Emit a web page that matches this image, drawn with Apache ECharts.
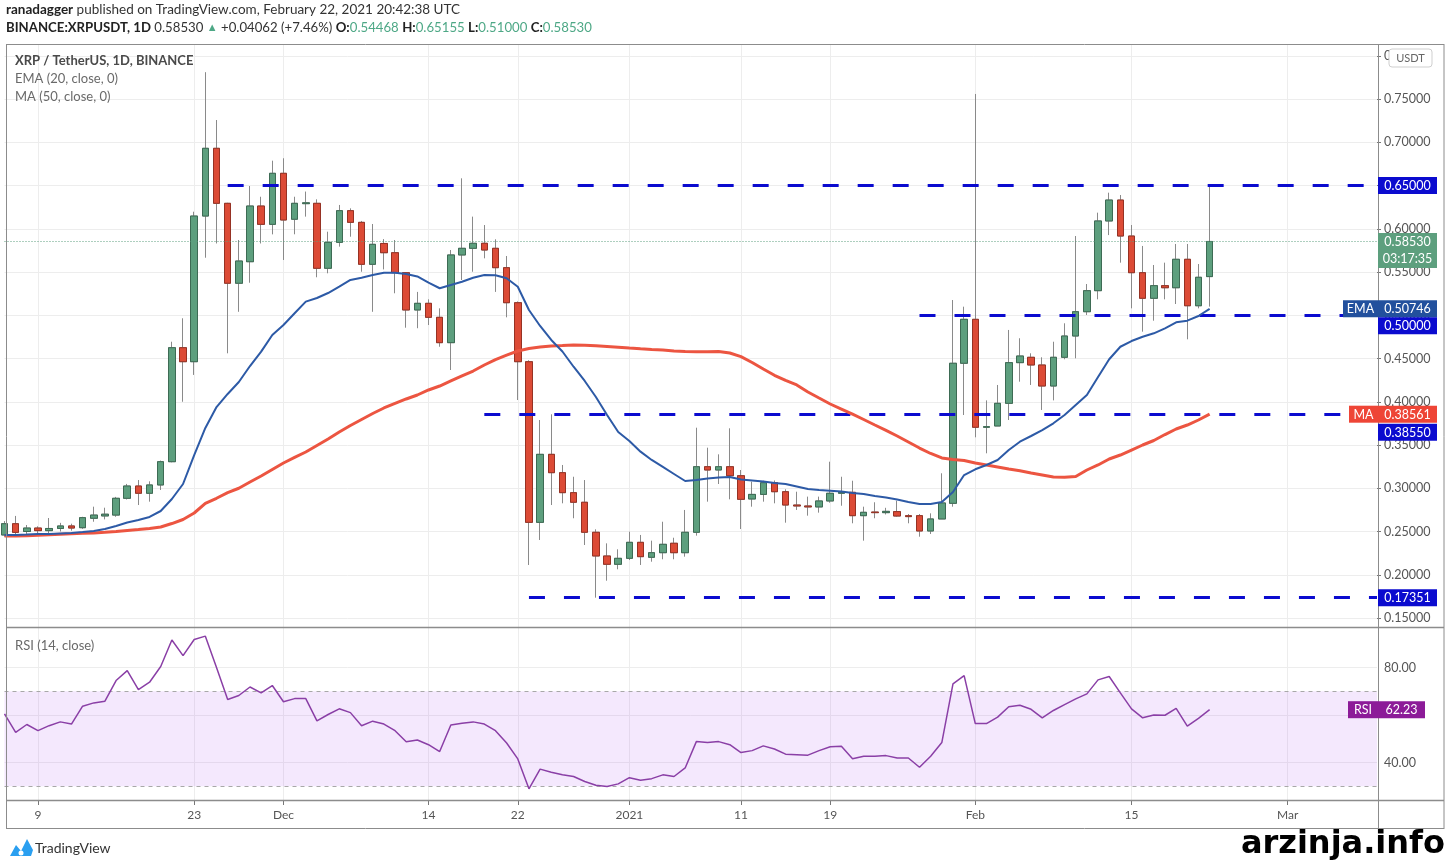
<!DOCTYPE html>
<html><head><meta charset="utf-8">
<script src="https://cdn.jsdelivr.net/npm/echarts@6/dist/echarts.min.js"></script>
<style>html,body{margin:0;padding:0;background:#fff;}#c{width:1449px;height:861px;}</style>
</head><body><div id="c"></div>
<script>
const dates = [
'2020-11-06','2020-11-07','2020-11-08','2020-11-09','2020-11-10','2020-11-11','2020-11-12','2020-11-13','2020-11-14','2020-11-15',
'2020-11-16','2020-11-17','2020-11-18','2020-11-19','2020-11-20','2020-11-21','2020-11-22','2020-11-23','2020-11-24','2020-11-25',
'2020-11-26','2020-11-27','2020-11-28','2020-11-29','2020-11-30','2020-12-01','2020-12-02','2020-12-03','2020-12-04','2020-12-05',
'2020-12-06','2020-12-07','2020-12-08','2020-12-09','2020-12-10','2020-12-11','2020-12-12','2020-12-13','2020-12-14','2020-12-15',
'2020-12-16','2020-12-17','2020-12-18','2020-12-19','2020-12-20','2020-12-21','2020-12-22','2020-12-23','2020-12-24','2020-12-25',
'2020-12-26','2020-12-27','2020-12-28','2020-12-29','2020-12-30','2020-12-31','2021-01-01','2021-01-02','2021-01-03','2021-01-04',
'2021-01-05','2021-01-06','2021-01-07','2021-01-08','2021-01-09','2021-01-10','2021-01-11','2021-01-12','2021-01-13','2021-01-14',
'2021-01-15','2021-01-16','2021-01-17','2021-01-18','2021-01-19','2021-01-20','2021-01-21','2021-01-22','2021-01-23','2021-01-24',
'2021-01-25','2021-01-26','2021-01-27','2021-01-28','2021-01-29','2021-01-30','2021-01-31','2021-02-01','2021-02-02','2021-02-03',
'2021-02-04','2021-02-05','2021-02-06','2021-02-07','2021-02-08','2021-02-09','2021-02-10','2021-02-11','2021-02-12','2021-02-13',
'2021-02-14','2021-02-15','2021-02-16','2021-02-17','2021-02-18','2021-02-19','2021-02-20','2021-02-21','2021-02-22','2021-02-23',
'2021-02-24','2021-02-25','2021-02-26','2021-02-27','2021-02-28','2021-03-01','2021-03-02','2021-03-03','2021-03-04','2021-03-05',
'2021-03-06','2021-03-07','2021-03-08','2021-03-09'];

const openP = [
0.2460,0.2590,0.2500,0.2540,0.2510,0.2535,0.2564,0.2544,0.2653,0.2680,
0.2690,0.2884,0.3026,0.2942,0.3038,0.3307,0.4625,0.4463,0.6147,0.6930,
0.6294,0.5370,0.5619,0.6263,0.6051,0.6641,0.6110,0.6290,0.6294,0.5543,
0.5843,0.6209,0.6074,0.5589,0.5830,0.5723,0.5492,0.5061,0.5138,0.4976,
0.4683,0.5697,0.5774,0.5832,0.5774,0.5550,0.5145,0.4463,0.2606,0.3392,
0.3180,0.2949,0.2838,0.2491,0.2217,0.2121,0.2190,0.2375,0.2202,0.2255,
0.2364,0.2255,0.2491,0.3249,0.3211,0.3249,0.3145,0.2876,0.2929,0.3064,
0.2960,0.2806,0.2795,0.2784,0.2853,0.2942,0.2953,0.2683,0.2725,0.2718,
0.2730,0.2683,0.2683,0.2506,0.2645,0.2826,0.4445,0.4953,0.3705,0.3720,
0.3982,0.4452,0.4514,0.4425,0.4182,0.4514,0.4760,0.5041,0.5284,0.6090,
0.6332,0.5916,0.5492,0.5196,0.5342,0.5318,0.5647,0.5110,0.54468];
const closeP = [
0.2590,0.2490,0.2540,0.2510,0.2535,0.2564,0.2540,0.2660,0.2690,0.2700,
0.2884,0.3026,0.2942,0.3038,0.3307,0.4625,0.4463,0.6147,0.6930,0.6294,
0.5370,0.5627,0.6263,0.6051,0.6641,0.6101,0.6294,0.6300,0.5543,0.5843,
0.6209,0.6074,0.5589,0.5820,0.5723,0.5492,0.5061,0.5138,0.4976,0.4683,
0.5697,0.5774,0.5832,0.5754,0.5550,0.5145,0.4463,0.2606,0.3392,0.3180,
0.2949,0.2838,0.2491,0.2217,0.2121,0.2190,0.2375,0.2209,0.2255,0.2352,
0.2255,0.2491,0.3249,0.3211,0.3249,0.3145,0.2872,0.2929,0.3064,0.2960,
0.2806,0.2795,0.2784,0.2853,0.2942,0.2953,0.2683,0.2722,0.2718,0.2733,
0.2679,0.2672,0.2506,0.2645,0.2830,0.4445,0.4953,0.3705,0.3712,0.3982,
0.4452,0.4529,0.4425,0.4182,0.4514,0.4760,0.5041,0.5284,0.6090,0.6332,
0.5916,0.5492,0.5196,0.5342,0.5318,0.5647,0.5110,0.5439,0.5853];
const lowP = [
0.2440,0.2460,0.2470,0.2480,0.2480,0.2500,0.2510,0.2530,0.2613,0.2640,
0.2670,0.2870,0.2806,0.2845,0.2980,0.3300,0.4000,0.4310,0.5665,0.5830,
0.4560,0.5040,0.5376,0.5830,0.5935,0.5639,0.5936,0.6140,0.5439,0.5485,
0.5793,0.5908,0.5503,0.5040,0.5530,0.5254,0.4856,0.4850,0.4887,0.4636,
0.4367,0.5407,0.5503,0.5658,0.5270,0.4976,0.4020,0.2113,0.2402,0.2806,
0.2826,0.2653,0.2344,0.1735,0.1931,0.2063,0.2170,0.2113,0.2151,0.2179,
0.2179,0.2209,0.2452,0.2845,0.3049,0.2872,0.2529,0.2787,0.2845,0.2826,
0.2602,0.2749,0.2683,0.2718,0.2833,0.2798,0.2595,0.2394,0.2653,0.2697,
0.2671,0.2595,0.2440,0.2471,0.2645,0.2787,0.3847,0.3589,0.3404,0.3720,
0.3789,0.4232,0.4194,0.3905,0.4016,0.4491,0.4502,0.5003,0.5184,0.5927,
0.5608,0.5080,0.4810,0.4937,0.5184,0.5130,0.4722,0.5080,0.5100];
const highP = [
0.2620,0.2680,0.2575,0.2560,0.2656,0.2600,0.2590,0.2670,0.2787,0.2775,
0.2900,0.3050,0.3095,0.3080,0.3320,0.4694,0.4965,0.6197,0.7810,0.7257,
0.6300,0.5870,0.6494,0.6370,0.6787,0.6815,0.6370,0.6430,0.6340,0.5966,
0.6275,0.6236,0.6090,0.6055,0.5880,0.5870,0.5500,0.5270,0.5184,0.5080,
0.5754,0.6583,0.6140,0.6043,0.5878,0.5685,0.5160,0.4480,0.3789,0.3855,
0.3269,0.3133,0.3095,0.2525,0.2363,0.2294,0.2498,0.2460,0.2394,0.2613,
0.2428,0.2749,0.3700,0.3469,0.3392,0.3693,0.3211,0.3076,0.3087,0.3090,
0.2988,0.2960,0.2903,0.2903,0.3307,0.3133,0.3087,0.2787,0.2838,0.2774,
0.2856,0.2702,0.2702,0.2710,0.3173,0.5176,0.5099,0.7558,0.4016,0.4194,
0.4830,0.4734,0.4560,0.4514,0.4694,0.4907,0.5916,0.5361,0.6186,0.6417,
0.6390,0.6043,0.5801,0.5581,0.5608,0.5824,0.5824,0.5592,0.65155];
const ema20 = [
0.2460,0.2460,0.2465,0.2471,0.2471,0.2477,0.2483,0.2494,0.2506,0.2529,
0.2564,0.2604,0.2633,0.2668,0.2737,0.2876,0.3049,0.3384,0.3697,0.3939,
0.4090,0.4228,0.4413,0.4579,0.4772,0.4887,0.5023,0.5157,0.5199,0.5257,
0.5330,0.5408,0.5434,0.5465,0.5492,0.5492,0.5477,0.5448,0.5376,0.5312,
0.5350,0.5388,0.5434,0.5465,0.5462,0.5427,0.5330,0.5061,0.4876,0.4714,
0.4581,0.4405,0.4240,0.4055,0.3847,0.3650,0.3546,0.3423,0.3327,0.3246,
0.3165,0.3084,0.3095,0.3113,0.3124,0.3130,0.3101,0.3090,0.3078,0.3061,
0.3049,0.3020,0.2991,0.2980,0.2972,0.2962,0.2945,0.2934,0.2910,0.2893,
0.2870,0.2841,0.2818,0.2818,0.2841,0.2957,0.3153,0.3219,0.3269,0.3327,
0.3442,0.3538,0.3604,0.3673,0.3751,0.3847,0.3962,0.4078,0.4286,0.4491,
0.4636,0.4702,0.4752,0.4791,0.4849,0.4918,0.4937,0.4991,0.50746];
const ma50 = [
0.2448,0.2448,0.2450,0.2456,0.2462,0.2469,0.2473,0.2479,0.2484,0.2490,
0.2500,0.2512,0.2523,0.2535,0.2552,0.2592,0.2639,0.2714,0.2824,0.2884,
0.2949,0.3000,0.3072,0.3142,0.3217,0.3292,0.3356,0.3419,0.3494,0.3569,
0.3650,0.3725,0.3795,0.3864,0.3928,0.3980,0.4032,0.4078,0.4136,0.4182,
0.4240,0.4298,0.4355,0.4425,0.4488,0.4540,0.4587,0.4616,0.4633,0.4645,
0.4650,0.4656,0.4654,0.4647,0.4639,0.4631,0.4621,0.4612,0.4604,0.4598,
0.4587,0.4581,0.4579,0.4579,0.4581,0.4563,0.4521,0.4454,0.4379,0.4306,
0.4246,0.4194,0.4113,0.4043,0.3974,0.3916,0.3858,0.3795,0.3731,0.3668,
0.3604,0.3535,0.3465,0.3402,0.3350,0.3332,0.3321,0.3292,0.3269,0.3246,
0.3223,0.3203,0.3176,0.3153,0.3130,0.3127,0.3136,0.3211,0.3269,0.3338,
0.3384,0.3442,0.3500,0.3552,0.3621,0.3685,0.3731,0.3789,0.38561];
const rsi14 = [
60.5,52.7,56.0,53.4,55.5,57.1,56.2,63.7,65.1,65.8,
74.5,78.7,70.7,73.8,80.4,91.6,85.0,91.8,93.2,80.0,
66.5,68.2,71.8,69.3,72.4,65.6,66.9,66.9,57.5,60.2,
62.6,61.0,55.5,57.4,56.2,53.4,48.7,49.5,47.5,44.6,
55.8,56.5,57.1,56.2,53.4,48.2,41.5,28.9,37.2,35.9,
34.8,34.1,32.0,30.4,29.9,31.0,33.6,32.5,33.2,34.8,
34.1,37.7,48.8,48.4,48.8,47.5,44.2,45.0,47.0,45.7,
43.5,43.3,43.1,45.0,46.6,46.8,41.6,42.6,42.6,42.9,
41.9,41.9,38.0,42.6,48.4,73.1,76.6,56.4,56.4,59.1,
63.5,64.1,62.4,58.8,61.9,64.4,66.8,68.9,74.8,76.2,
69.3,62.6,58.8,60.0,59.9,62.8,55.3,58.6,62.23];

const tickDates = ['2020-11-09','2020-11-23','2020-12-01','2020-12-14','2020-12-22','2021-01-01','2021-01-11','2021-01-19','2021-02-01','2021-02-15','2021-03-01'];
const tickTexts = ['9','23','Dec','14','22','2021','11','19','Feb','15','Mar'];
const levelValues = [0.65, 0.50, 0.3855, 0.17351];
const levelStarts = ['2020-11-26','2021-01-27','2020-12-19','2020-12-23'];
const lastPrice = 0.5853;
const countdown = '03:17:35';
const lastEma = 0.50746, lastMa = 0.38561, lastRsi = 62.23;

const UP = '#5d9f7e', DOWN = '#dc4b36', LEVEL = '#0b0bcf';
const lastDate = dates[dates.length - 1];
const candles = openP.map((o, i) => [o, closeP[i], lowP[i], highP[i]]);
const bodies = openP.map((o, i) => [o, closeP[i], Math.min(o, closeP[i]), Math.max(o, closeP[i])]);
const tickIdx = new Set(tickDates.map(d => dates.indexOf(d)));
const isTick = (i) => tickIdx.has(i);

const chart = echarts.init(document.getElementById('c'), null, {renderer: 'canvas'});
const GL = 4.5, GW = 1372.5;
const hiddenX = (gi) => ({type: 'category', gridIndex: gi, data: dates, boundaryGap: false,
  axisLine: {show: false}, axisTick: {show: false}, axisLabel: {show: false}, splitLine: {show: false}});

const option = {
  animation: false,
  backgroundColor: '#ffffff',
  textStyle: {fontFamily: 'Lato'},
  grid: [
    {left: GL, width: GW, top: 55.75, height: 562.25},
    {left: GL, width: GW, top: 620, height: 190},
    {left: GL, width: GW, top: 44, height: 756}
  ],
  xAxis: [
    hiddenX(0), hiddenX(1),
    {type: 'category', gridIndex: 2, data: dates, boundaryGap: false,
     axisLine: {show: false},
     axisTick: {show: true, interval: isTick, length: 5, lineStyle: {color: '#777'}},
     axisLabel: {show: true, interval: isTick, margin: 9, color: '#555', fontSize: 12, fontFamily: 'Lato',
       formatter: (v) => { const k = tickDates.indexOf(v); return k >= 0 ? tickTexts[k] : ''; }},
     splitLine: {show: true, interval: isTick, lineStyle: {color: '#ededed', width: 1}}}
  ],
  yAxis: [
    {type: 'value', gridIndex: 0, position: 'right', min: 0.15, max: 0.80, interval: 0.05,
     axisLine: {show: false}, axisTick: {show: true, length: 4, lineStyle: {color: '#777'}},
     axisLabel: {color: '#555', fontSize: 12.5, margin: 7, fontFamily: 'Lato', formatter: (v) => v.toFixed(5)},
     splitLine: {show: true, lineStyle: {color: '#ededed', width: 1}}},
    {type: 'value', gridIndex: 1, position: 'right', min: 20, max: 100, interval: 20,
     axisLine: {show: false}, axisTick: {show: false},
     axisLabel: {color: '#555', fontSize: 12.5, margin: 7, fontFamily: 'Lato',
       formatter: (v) => (Math.round(v) === 40 || Math.round(v) === 80) ? v.toFixed(2) : ''},
     splitLine: {show: true, showMinLine: false, showMaxLine: false, lineStyle: {color: '#ededed', width: 1}}},
    {type: 'value', gridIndex: 2, show: false, splitLine: {show: false}}
  ],
  series: [
    {name: 'wicks', type: 'candlestick', xAxisIndex: 0, yAxisIndex: 0, data: candles, barWidth: 7, z: 2,
     itemStyle: {color: '#8a8a8a', color0: '#8a8a8a', borderColor: '#8a8a8a', borderColor0: '#8a8a8a', borderWidth: 1}},
    {name: 'bodies', type: 'candlestick', xAxisIndex: 0, yAxisIndex: 0, data: bodies, barWidth: 7, z: 3,
     itemStyle: {color: UP, color0: DOWN, borderColor: '#3d6b54', borderColor0: '#963224', borderWidth: 1}},
    {name: 'MA 50', type: 'line', xAxisIndex: 0, yAxisIndex: 0, data: ma50, showSymbol: false, symbol: 'none', z: 5,
     lineStyle: {color: '#ec5541', width: 3}},
    {name: 'EMA 20', type: 'line', xAxisIndex: 0, yAxisIndex: 0, data: ema20, showSymbol: false, symbol: 'none', z: 6,
     lineStyle: {color: '#2d5aa6', width: 2}},
    {name: 'levels', type: 'line', xAxisIndex: 0, yAxisIndex: 0, data: [], z: 7,
     markLine: {silent: true, symbol: ['none', 'none'], label: {show: false},
       data: levelValues.map((v, i) => [
         {xAxis: levelStarts[i], yAxis: v, lineStyle: {color: LEVEL, width: 3, type: [16, 19]}},
         {xAxis: lastDate, yAxis: v}
       ]).concat([[
         {xAxis: dates[0], yAxis: lastPrice, lineStyle: {color: UP, width: 1, type: [1, 2]}},
         {xAxis: lastDate, yAxis: lastPrice}
       ]])}},
    {name: 'RSI', type: 'line', xAxisIndex: 1, yAxisIndex: 1, data: rsi14, showSymbol: false, symbol: 'none', z: 5,
     lineStyle: {color: '#8a3fa6', width: 1.5},
     markArea: {silent: true, itemStyle: {color: 'rgba(180,100,240,0.15)'}, data: [[{yAxis: 30}, {yAxis: 70}]]},
     markLine: {silent: true, symbol: ['none', 'none'], label: {show: false},
       lineStyle: {color: '#a8a8a8', width: 1, type: [4, 4]}, data: [{yAxis: 70}, {yAxis: 30}]}}
  ]
};
chart.setOption(option);

const yP = (v) => chart.convertToPixel({yAxisIndex: 0}, v);
const yR = (v) => chart.convertToPixel({yAxisIndex: 1}, v);

function txt(x, y, text, font, fill, align) {
  return {type: 'text', x: x, y: y, z: 120, silent: true,
    style: {text: text, font: font, fill: fill, textAlign: align || 'left', align: align || 'left',
            textVerticalAlign: 'middle', verticalAlign: 'middle'}};
}
function box(x, yc, w, h, bg, text) {
  return [
    {type: 'rect', z: 110, silent: true, shape: {x: x, y: yc - h / 2, width: w, height: h}, style: {fill: bg}},
    txt(x + w / 2, yc + 0.5, text, '12.5px Lato', '#ffffff', 'center')
  ];
}
function line(x1, y1, x2, y2, color, w) {
  return {type: 'line', z: 105, silent: true, shape: {x1: x1, y1: y1, x2: x2, y2: y2}, style: {stroke: color, lineWidth: w || 1}};
}

const AX = 1378, AW = 59;
const g = [];
const FR = '#8c8c8c';
g.push(line(6, 44.5, 1444, 44.5, FR, 1));
g.push(line(6.5, 44, 6.5, 829, FR, 1));
g.push(line(1378.5, 44, 1378.5, 829, FR, 1));
g.push(line(1444, 44, 1444, 829, FR, 1));
g.push(line(6, 627.5, 1444, 627.5, FR, 1.5));
g.push(line(6, 800.5, 1444, 800.5, FR, 1.5));
g.push(line(6, 828.5, 1444, 828.5, FR, 1));

g.push({type: 'text', x: 6, y: 10, z: 120, silent: true, style: {
  text: '{b|ranadagger} published on TradingView.com, February 22, 2021 20:42:38 UTC',
  font: '13.5px Lato', fill: '#333', textVerticalAlign: 'middle', verticalAlign: 'middle',
  rich: {b: {fontWeight: 'bold', fontSize: 13.5, fontFamily: 'Lato', fill: '#222', color: '#222'}}}});
g.push({type: 'text', x: 6, y: 28, z: 120, silent: true, style: {
  text: '{b|BINANCE:XRPUSDT, 1D} 0.58530 {g|▲} +0.04062 (+7.46%) {b|O:}{v|0.54468} {b|H:}{v|0.65155} {b|L:}{v|0.51000} {b|C:}{v|0.58530}',
  font: '13.2px Lato', fill: '#333', textVerticalAlign: 'middle', verticalAlign: 'middle',
  rich: {
    b: {fontWeight: 'bold', fontSize: 13.2, fontFamily: 'Lato', fill: '#222', color: '#222'},
    v: {fontSize: 13.2, fontFamily: 'Lato', fill: '#4ea886', color: '#4ea886'},
    g: {fontSize: 11, fill: '#4ea886', color: '#4ea886'}
  }}});
g.push(txt(15, 61, 'XRP / TetherUS, 1D, BINANCE', 'bold 13px Lato', '#4a4a4a'));
g.push(txt(15, 79, 'EMA (20, close, 0)', '13px Lato', '#6a6a6a'));
g.push(txt(15, 97, 'MA (50, close, 0)', '13px Lato', '#6a6a6a'));
g.push(txt(15, 646, 'RSI (14, close)', '13px Lato', '#6a6a6a'));

g.push({type: 'rect', z: 110, silent: true, shape: {x: 1389, y: 49, width: 43, height: 18, r: 3}, style: {fill: '#fff', stroke: '#cfcfcf', lineWidth: 1}});
g.push(txt(1410.5, 58.5, 'USDT', '11px Lato', '#666', 'center'));

g.push(...box(AX, yP(levelValues[0]), AW, 17, LEVEL, levelValues[0].toFixed(5)));
const yPrice = yP(lastPrice);
g.push({type: 'rect', z: 110, silent: true, shape: {x: AX, y: yPrice - 8.5, width: AW, height: 35}, style: {fill: UP}});
g.push(txt(AX + AW / 2, yPrice + 0.5, lastPrice.toFixed(5), '12.5px Lato', '#fff', 'center'));
g.push(txt(AX + AW / 2, yPrice + 18, countdown, '12.5px Lato', '#fff', 'center'));
const yEma = yP(lastEma);
g.push(...box(1343, yEma, 35, 17, '#22509d', 'EMA'));
g.push(...box(AX, yEma, AW, 17, '#22509d', lastEma.toFixed(5)));
g.push(...box(AX, yEma + 17, AW, 17, LEVEL, levelValues[1].toFixed(5)));
const yMa = yP(lastMa);
g.push(...box(1349, yMa, 29, 17, '#ee4536', 'MA'));
g.push(...box(AX, yMa, AW, 17, '#ee4536', lastMa.toFixed(5)));
g.push(...box(AX, yMa + 18, AW, 17, LEVEL, levelValues[2].toFixed(5)));
g.push(...box(AX, yP(levelValues[3]), AW, 17, LEVEL, levelValues[3].toFixed(5)));
const yRsi = yR(lastRsi);
g.push(...box(1348, yRsi, 30, 17, '#8c1b98', 'RSI'));
g.push(...box(AX, yRsi, 47, 17, '#8c1b98', lastRsi.toFixed(2)));

g.push({type: 'polygon', z: 110, silent: true, shape: {points: [[10,856],[16,845],[21,851],[27,839],[33,850],[31,856]]}, style: {fill: '#2a9ff0'}});
g.push({type: 'circle', z: 111, silent: true, shape: {cx: 21, cy: 853, r: 2.5}, style: {fill: '#fff'}});
g.push(txt(35, 848, 'TradingView', '14px Lato', '#333'));
g.push(txt(1445, 845, 'arzinja.info', 'bold 32px "DejaVu Sans"', '#000', 'right'));

chart.setOption({graphic: {elements: g}});
</script>
</body></html>
